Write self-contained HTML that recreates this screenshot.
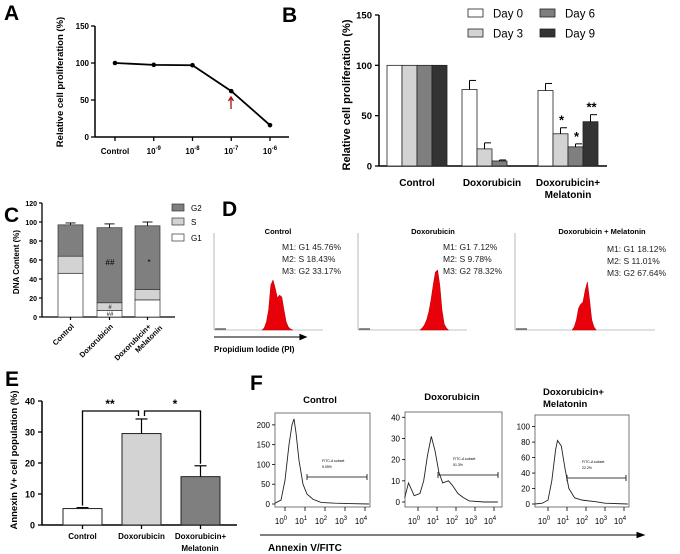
<!DOCTYPE html>
<html><head><meta charset="utf-8"><style>
html,body{margin:0;padding:0;background:#fff}
svg{display:block;font-family:"Liberation Sans",Arial,sans-serif}
</style></head><body>
<svg id="fig" width="680" height="554" viewBox="0 0 680 554" xmlns="http://www.w3.org/2000/svg">
<g font-weight="bold" font-size="21">
<text x="4" y="20">A</text>
<text x="282" y="22">B</text>
<text x="4" y="222">C</text>
<text x="222" y="216">D</text>
<text x="5" y="386">E</text>
<text x="250" y="390">F</text>
</g>
<g id="A"></g>
<g id="B"></g>
<g id="C"></g>
<g id="D"></g>
<g id="E"></g>
<g id="F"></g>
</svg>
<script>
// ---- data ----
const aCategories = ["Control","10-9","10-8","10-7","10-6"];
const aExp = ["", "-9", "-8", "-7", "-6"];
const aValues = [100, 97.5, 97, 62, 16];
const aTicks = [0, 50, 100, 150];

const bGroups = ["Control","Doxorubicin","Doxorubicin+"];
const bDay0 = [100, 76, 75];
const bDay3 = [100, 17, 32];
const bDay6 = [100, 5, 19];
const bDay9 = [100, 0, 44];
const bErr0 = [0, 9, 7];
const bErr3 = [0, 6, 6];
const bErr6 = [0, 1, 3];
const bErr9 = [0, 0, 7];
const bStars3 = ["", "", "*"];
const bStars6 = ["", "", "*"];
const bStars9 = ["", "", "**"];
const bTicks = [0, 50, 100, 150];

const cGroups = ["Control","Doxorubicin","Doxorubicin+ Melatonin"];
const cG1 = [46, 7, 18];
const cS = [18, 8, 11];
const cG2 = [33, 79, 67];
const cErrG1 = [3, 1, 3];
const cErrS = [3, 2, 1];
const cErrG2 = [2, 4, 4];
const cTicks = [0, 20, 40, 60, 80, 100, 120];

const dTitles = ["Control","Doxorubicin","Doxorubicin + Melatonin"];
const dStatsG1 = ["45.76%","7.12%","18.12%"];
const dStatsS = ["18.43%","9.78%","11.01%"];
const dStatsG2 = ["33.17%","78.32%","67.64%"];
const dHist0 = [0,2,8,20,45,50,42,32,35,33,20,8,3,1,0];
const dHist1 = [0,2,5,10,18,30,45,58,60,45,20,6,2,0];
const dHist2 = [0,3,10,22,26,28,40,48,30,10,3,0];

const eGroups = ["Control","Doxorubicin","Doxorubicin+"];
const eValues = [5.3, 29.5, 15.6];
const eErr = [0.3, 4.7, 3.5];
const eTicks = [0, 10, 20, 30, 40];

const fTitles = ["Control","Doxorubicin","Doxorubicin+"];
const fLog0 = [-0.5,-0.2,0,0.2,0.35,0.45,0.55,0.7,0.9,1.1,1.4,1.8,2.5,3.2,4.2];
const fCnt0 = [2,10,60,150,200,215,180,110,50,25,12,4,2,1,0];
const fLog1 = [-0.7,-0.5,-0.2,0.1,0.3,0.5,0.7,0.9,1.1,1.3,1.6,1.8,2.1,2.4,2.7,3.5,4.2];
const fCnt1 = [2,9,3,4,10,22,31,24,14,9,10,8,4,2,0.5,0,0];
const fLog2 = [-0.7,-0.3,0,0.2,0.4,0.5,0.7,0.9,1.1,1.4,1.8,2.5,3,4.2];
const fCnt2 = [0,1,5,30,70,82,75,45,20,8,5,3,1,0];
const fTicks0 = [0,50,100,150,200];
const fTicks1 = [0,10,20,30,40];
const fTicks2 = [0,20,40,60,80,100];
const fPct = ["5.05%","51.3%","22.2%"];

// ---- helpers ----
const NS="http://www.w3.org/2000/svg";
function el(parent, tag, attrs, text){
  const e=document.createElementNS(NS,tag);
  for(const k in attrs) e.setAttribute(k,attrs[k]);
  if(text!==undefined) e.textContent=text;
  parent.appendChild(e); return e;
}
function line(p,x1,y1,x2,y2,w,c){return el(p,'line',{x1,y1,x2,y2,stroke:c||'#000','stroke-width':w||1.3});}

// ---- Panel A ----
(function(){
  const g=document.getElementById('A');
  const xA=i=>115+i*38.75, yA=v=>137-v*(111/150);
  const ax=line(g,95,26,95,137,1.5);
   
  line(g,95,137,289,137,1.5);
  aTicks.forEach(t=>{line(g,91,yA(t),95,yA(t),1.3);
    const tx=el(g,'text',{x:89,y:yA(t)+3,'text-anchor':'end','font-size':8,'font-weight':'bold'},t);
     });
  aCategories.forEach((c,i)=>{line(g,xA(i),137,xA(i),141,1.3);
    const t=el(g,'text',{x:xA(i),y:154,'text-anchor':'middle','font-size':8,'font-weight':'bold'});
     
    if(i===0){t.textContent='Control';}
    else{el(t,'tspan',{},'10'); el(t,'tspan',{dy:-4,'font-size':6},aExp[i]);}
  });
  const yt=el(g,'text',{transform:'translate(63,82) rotate(-90)','text-anchor':'middle','font-size':9.5,'font-weight':'bold'},'Relative cell proliferation (%)');
   
  const pts=aValues.map((v,i)=>xA(i)+','+yA(v)).join(' ');
  const pl=el(g,'polyline',{points:pts,fill:'none',stroke:'#000','stroke-width':1.8});
   
  aValues.forEach((v,i)=>{const c=el(g,'circle',{cx:xA(i),cy:yA(v),r:2.3,fill:'#000'});
     });
  const ar=el(g,'path',{d:'M231 109 L231 98 M228.5 101 L231 97 L233.5 101',stroke:'#a01010','stroke-width':1.3,fill:'none'});
   
})();

// ---- Panel B ----
(function(){
  const g=document.getElementById('B');
  const yB=v=>166-v*(151/150);
  const starts=[387,462,538], w=15;
  line(g,379,15,379,166,1.5); line(g,379,166,607,166,1.5);
  bTicks.forEach(t=>{line(g,375,yB(t),379,yB(t),1.3);
    const tx=el(g,'text',{x:372,y:yB(t)+3.5,'text-anchor':'end','font-size':9.5,'font-weight':'bold'},t);
     });
  const yt=el(g,'text',{transform:'translate(350,95) rotate(-90)','text-anchor':'middle','font-size':11,'font-weight':'bold'},'Relative cell proliferation (%)');
   
  const series=[bDay0,bDay3,bDay6,bDay9], errs=[bErr0,bErr3,bErr6,bErr9], stars=[null,bStars3,bStars6,bStars9];
  const fills=['#fff','#d3d3d3','#7f7f7f','#333'];
  series.forEach((s,k)=>s.forEach((v,i)=>{
    if(v<=0) return;
    const x=starts[i]+k*w;
    const r=el(g,'rect',{x,y:yB(v),width:w,height:yB(0)-yB(v),fill:fills[k],stroke:'#222','stroke-width':0.8});
     
    const e=errs[k][i];
    if(e>0){line(g,x+w/2,yB(v),x+w/2,yB(v+e),1); line(g,x+w/2,yB(v+e),x+w-1,yB(v+e),1);}
    if(stars[k]&&stars[k][i]){const st=el(g,'text',{x:x+w/2+1,y:yB(v+e)-3,'text-anchor':'middle','font-size':13,'font-weight':'bold'},stars[k][i]);
       }
  }));
  bGroups.forEach((c,i)=>{const cx=starts[i]+30;
    const t=el(g,'text',{x:cx,y:186,'text-anchor':'middle','font-size':10,'font-weight':'bold'},c);
     });
  const t2=el(g,'text',{x:starts[2]+30,y:198,'text-anchor':'middle','font-size':10,'font-weight':'bold'},'Melatonin');
   
  const leg=[['Day 0',468,13],['Day 3',468,33],['Day 6',540,13],['Day 9',540,33]];
  leg.forEach((l,k)=>{
    const r=el(g,'rect',{x:l[1],y:l[2]-4,width:15,height:8,fill:fills[k],stroke:'#222','stroke-width':0.8});
     
    const t=el(g,'text',{x:l[1]+25,y:l[2]+4.5,'font-size':11.5},l[0]);
     });
})();

// ---- Panel C ----
(function(){
  const g=document.getElementById('C');
  const yC=v=>317-v*0.95; const starts=[58,97,135], w=25;
  line(g,42,203,42,317,1.3); line(g,42,317,175,317,1.3);
  cTicks.forEach(t=>{line(g,39,yC(t),42,yC(t),1.2);
    const tx=el(g,'text',{x:37,y:yC(t)+3,'text-anchor':'end','font-size':7,'font-weight':'bold'},t);
     });
  const yt=el(g,'text',{transform:'translate(19,262) rotate(-90)','text-anchor':'middle','font-size':8,'font-weight':'bold'},'DNA Content (%)');
   
  const fills=['#fff','#d3d3d3','#7f7f7f'], names=['g1','s','g2'];
  cGroups.forEach((c,i)=>{
    let base=0; const segs=[cG1[i],cS[i],cG2[i]], es=[cErrG1[i],cErrS[i],cErrG2[i]];
    segs.forEach((v,k)=>{
      const r=el(g,'rect',{x:starts[i],y:yC(base+v),width:w,height:v*0.95,fill:fills[k],stroke:'#333','stroke-width':0.7});
       
      base+=v;
      const cx=starts[i]+w/2; line(g,cx,yC(base),cx,yC(base+es[k]),0.9); line(g,cx-5,yC(base+es[k]),cx+5,yC(base+es[k]),0.9);
    });
    line(g,starts[i]+w/2,317,starts[i]+w/2,320,1.2);
    const t=el(g,'text',{transform:`translate(${starts[i]+w/2+4},327) rotate(-45)`,'text-anchor':'end','font-size':7.5,'font-weight':'bold'});
     
    if(i<2) t.textContent=c; else {el(t,'tspan',{x:0,y:0},'Doxorubicin+'); el(t,'tspan',{x:7,y:9},'Melatonin');}
  });
  [['##',110,265],['*',149,265],['#',110,309],['##',110,316]].forEach(a=>{
    const t=el(g,'text',{x:a[1],y:a[2],'text-anchor':'middle','font-size':a[2]>300?6:8},a[0]);
     });
  [['G2',208,fills[2]],['S',222,fills[1]],['G1',238,fills[0]]].forEach(l=>{
    const r=el(g,'rect',{x:172,y:l[1]-4,width:12,height:7,fill:l[2],stroke:'#333','stroke-width':0.7});
     
    const t=el(g,'text',{x:191,y:l[1]+3,'font-size':8},l[0]);
     });
})();

// ---- Panel D ----
(function(){
  const g=document.getElementById('D');
  const panels=[{x0:214,x1:323,hs:262,tx:278,sx:282,sy:250,h:dHist0},{x0:358,x1:467,hs:420,tx:433,sx:443,sy:250,h:dHist1},{x0:515,x1:655,hs:572,tx:602,sx:607,sy:252,h:dHist2}];
  const base=330;
  panels.forEach((p,i)=>{
    line(g,p.x0,233,p.x0,base,0.6,'#888'); line(g,p.x0,base,p.x1,base,0.6,'#888');
    const t=el(g,'text',{x:p.tx,y:234,'text-anchor':'middle','font-size':7.5,'font-weight':'bold'},dTitles[i]);
     
    [['M1: G1  ',dStatsG1[i]],['M2: S  ',dStatsS[i]],['M3: G2  ',dStatsG2[i]]].forEach((s,k)=>{
      const st=el(g,'text',{x:p.sx,y:p.sy+k*12,'font-size':8.5,fill:'#222'},s[0]+s[1]);
       });
    let d=`M${p.hs} ${base}`;
    p.h.forEach((v,k)=>{d+=` L${p.hs+k*2.2} ${base-v}`;});
    d+=` L${p.hs+(p.h.length-1)*2.2} ${base} Z`;
    const pa=el(g,'path',{d,fill:'#e8000b',stroke:'#b00','stroke-width':0.5});
     
    line(g,p.x0+1,base-1,p.x0+12,base-1,1.2,'#444');
  });
  const ar=el(g,'path',{d:'M214 337 L304 337 M300 334.5 L306 337 L300 339.5 Z',stroke:'#000','stroke-width':1.1,fill:'#000'});
   
  const t=el(g,'text',{x:214,y:352,'font-size':8,'font-weight':'bold'},'Propidium Iodide (PI)');
   
})();

// ---- Panel E ----
(function(){
  const g=document.getElementById('E');
  const yE=v=>525-v*3.1; const starts=[63,122,181], w=39;
  line(g,42,401,42,525,1.5); line(g,42,525,237,525,1.5);
  eTicks.forEach(t=>{line(g,38,yE(t),42,yE(t),1.3);
    const tx=el(g,'text',{x:35,y:yE(t)+3.5,'text-anchor':'end','font-size':9,'font-weight':'bold'},t);
     });
  const yt=el(g,'text',{transform:'translate(17,460) rotate(-90)','text-anchor':'middle','font-size':9.5,'font-weight':'bold'},'Annexin V+ cell population (%)');
   
  const fills=['#fff','#d3d3d3','#7f7f7f'];
  eValues.forEach((v,i)=>{
    const r=el(g,'rect',{x:starts[i],y:yE(v),width:w,height:yE(0)-yE(v),fill:fills[i],stroke:'#222','stroke-width':1});
     
    const cx=starts[i]+w/2; line(g,cx,yE(v),cx,yE(v+eErr[i]),1.2); line(g,cx-6,yE(v+eErr[i]),cx+6,yE(v+eErr[i]),1.2);
    line(g,cx,525,cx,529,1.3);
    const t=el(g,'text',{x:cx,y:539,'text-anchor':'middle','font-size':8,'font-weight':'bold'},eGroups[i]);
     
  });
  const t2=el(g,'text',{x:200,y:551,'text-anchor':'middle','font-size':8,'font-weight':'bold'},'Melatonin');
   
  const c0=starts[0]+w/2,c1=starts[1]+w/2,c2=starts[2]+w/2;
  const br=el(g,'path',{d:`M${c0} ${yE(eValues[0]+eErr[0])-2} L${c0} 411 L${c1-3} 411 L${c1-3} 416 M${c1+3} 416 L${c1+3} 411 L${c2} 411 L${c2} ${yE(eValues[2]+eErr[2])-2}`,fill:'none',stroke:'#000','stroke-width':1.3});
   
  [['**',110,408],['*',175,408]].forEach(a=>{const t=el(g,'text',{x:a[1],y:a[2],'text-anchor':'middle','font-size':12,'font-weight':'bold'},a[0]);
     });
})();

// ---- Panel F ----
(function(){
  const g=document.getElementById('F');
  const panels=[
    {x0:275,x1:370,yt:413,dec0:285,sp:20,y0:504,ymax:230,ytop:413,logs:fLog0,cnt:fCnt0,ticks:fTicks0,gate:[307,367,477]},
    {x0:405,x1:502,yt:412,dec0:418,sp:19,y0:502,ymax:42.5,ytop:412,logs:fLog1,cnt:fCnt1,ticks:fTicks1,gate:[438,498,475]},
    {x0:535,x1:629,yt:415,dec0:548,sp:19,y0:504,ymax:115,ytop:415,logs:fLog2,cnt:fCnt2,ticks:fTicks2,gate:[567,626,478]}];
  panels.forEach((p,i)=>{
    const yS=v=>p.y0-v*(p.y0-p.ytop)/p.ymax, xS=l=>p.dec0+l*p.sp;
    const r=el(g,'rect',{x:p.x0,y:p.yt,width:p.x1-p.x0,height:507-p.yt,fill:'none',stroke:'#555','stroke-width':0.8});
     
    p.ticks.forEach(t=>{line(g,p.x0-3,yS(t),p.x0,yS(t),0.8);
      const tx=el(g,'text',{x:p.x0-5,y:yS(t)+3,'text-anchor':'end','font-size':8},t);
       });
    for(let d=0;d<=4;d++){
      const x=xS(d); line(g,x,507,x,511,0.8);
      const t=el(g,'text',{x:x-4,y:524,'text-anchor':'middle','font-size':8});
       
      el(t,'tspan',{},'10'); el(t,'tspan',{dy:-4,'font-size':6},d);
    }
    const pts=p.logs.map((l,k)=>xS(l)+','+yS(p.cnt[k])).join(' ');
    const pl=el(g,'polyline',{points:pts,fill:'none',stroke:'#222','stroke-width':0.9});
     
    const [gx1,gx2,gy]=p.gate;
    line(g,gx1,gy,gx2,gy,0.8); line(g,gx1,gy-3,gx1,gy+3,0.8); line(g,gx2,gy-3,gx2,gy+3,0.8);
    const gt=el(g,'text',{x:gx1+15,y:gy-15,'font-size':3.5},'FITC-A subset');
     
    const gp=el(g,'text',{x:gx1+15,y:gy-9,'font-size':3.5},fPct[i]);
     
  });
  [['Control',320,403],['Doxorubicin',452,400]].forEach(a=>{
    const t=el(g,'text',{x:a[1],y:a[2],'text-anchor':'middle','font-size':9.5,'font-weight':'bold'},a[0]);
     });
  const t3=el(g,'text',{x:543,y:395,'font-size':9.5,'font-weight':'bold'},'Doxorubicin+');
   
  const t4=el(g,'text',{x:543,y:407,'font-size':9.5,'font-weight':'bold'},'Melatonin');
   
  const ar=el(g,'path',{d:'M260 535 L642 535 M637 532.5 L644 535 L637 537.5 Z',stroke:'#000','stroke-width':1,fill:'#000'});
   
  const t=el(g,'text',{x:268,y:551,'font-size':10,'font-weight':'bold'},'Annexin V/FITC');
   
})();
</script>
</body></html>
